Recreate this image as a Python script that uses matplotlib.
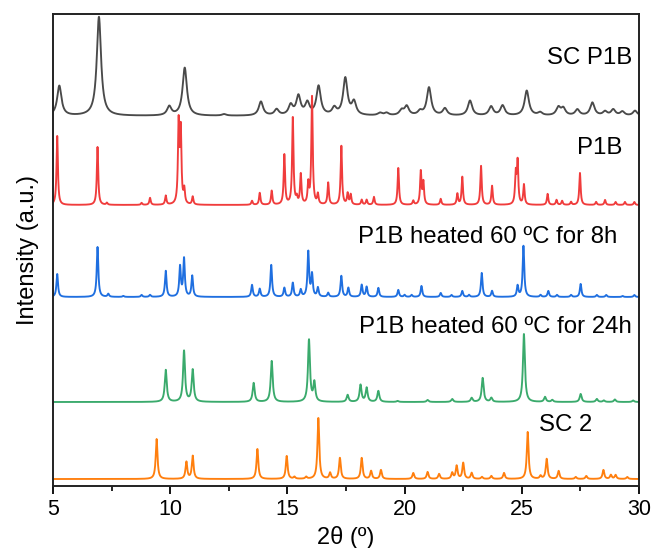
import numpy as np
import matplotlib
matplotlib.use('Agg')
import matplotlib.pyplot as plt
from matplotlib.ticker import MultipleLocator

plt.rcParams['font.family'] = ['Liberation Sans', 'DejaVu Sans']

# peak lists: 2theta (deg) and height (a.u.)
sc_p1b_pos = [5.27, 6.96, 9.96, 10.62, 12.3, 13.87, 14.54, 15.14, 15.47, 15.85, 16.33, 17.0,
              17.47, 17.84, 18.95, 19.23, 19.87, 20.09, 20.66, 21.04, 21.72, 22.79, 23.69,
              24.18, 25.21, 25.78, 26.56, 26.77, 27.37, 28.01, 28.55, 28.9, 29.29, 29.83]
sc_p1b_int = [30, 99, 9, 48, 1.5, 14, 6, 10, 19, 12, 29, 7,
              37, 13, 2.5, 2.5, 5, 9, 4, 28, 7, 15, 9,
              10, 25, 3, 8, 7, 6, 13, 4, 6, 4, 5]

p1b_pos = [5.18, 6.9, 7.3, 8.78, 9.14, 9.81, 10.36, 10.45, 10.6, 10.96, 13.49, 13.82, 14.33,
           14.87, 15.23, 15.4, 15.57, 15.89, 16.05, 16.3, 16.74, 17.3, 17.57, 17.7, 18.17,
           18.38, 18.69, 19.73, 20.37, 20.69, 20.8, 21.54, 22.25, 22.46, 23.26, 23.73, 24.74,
           24.82, 25.09, 26.1, 26.48, 26.72, 27.1, 27.48, 28.17, 28.55, 29.0, 29.4, 29.8]
p1b_int = [69, 58, 2, 2, 7, 9, 80, 72, 14, 8, 4, 12, 14,
           50, 87, 6, 30, 20, 108, 10, 22, 59, 11, 10, 5,
           5, 8, 37, 4, 33, 22, 6, 11, 28, 39, 19, 30,
           42, 20, 11, 5, 4, 3, 32, 3, 5, 3, 3, 3]

heat8_pos = [5.18, 6.9, 7.36, 8.0, 8.78, 9.14, 9.81, 10.42, 10.59, 10.94, 13.49, 13.82, 14.31,
             14.87, 15.23, 15.57, 15.89, 16.05, 16.3, 16.74, 17.3, 17.6, 18.17, 18.38, 18.88,
             19.73, 20.0, 20.3, 20.72, 21.54, 22.0, 22.46, 22.75, 23.29, 23.73, 24.82, 25.07,
             25.8, 26.13, 26.5, 27.1, 27.51, 28.2, 28.6, 29.3, 29.8]
heat8_int = [23, 50, 3, 1, 2, 2, 26, 30, 38, 21, 12, 8, 32,
             9, 14, 7, 45, 22, 9, 4, 21, 9, 12, 10, 9,
             7, 2, 2, 11, 4, 2, 6, 2, 24, 6, 11, 51,
             2, 6, 2, 2, 13, 2, 2, 1, 2]

heat24_pos = [9.81, 10.59, 10.96, 13.56, 14.33, 15.92, 16.15, 17.57, 18.12, 18.38, 18.88,
              19.7, 20.98, 22.03, 22.86, 23.33, 23.7, 25.09, 25.99, 26.3, 27.51, 28.2,
              28.5, 28.97, 29.75]
heat24_int = [32, 51, 32, 19, 41, 62, 19, 7, 17, 14, 11,
              1, 2, 3, 4, 24, 4, 68, 5, 2, 8, 3,
              1.5, 2.5, 1.5]

sc2_pos = [9.42, 10.69, 10.96, 13.72, 14.97, 15.3, 15.8, 16.32, 16.82, 17.24, 18.17, 18.57,
           18.99, 20.37, 20.98, 21.47, 22.03, 22.22, 22.5, 22.86, 23.3, 23.7, 24.24, 25.25,
           25.8, 26.06, 26.57, 27.3, 27.75, 28.48, 28.8, 29.0, 29.5]
sc2_int = [40, 17, 23, 30, 23, 2, 2, 61, 6, 21, 21, 8,
           9, 6, 7, 5, 6, 13, 16, 6, 2, 3, 6, 47,
           3, 20, 8, 2, 3, 9, 4, 4, 2]

labels = ['SC P1B', 'P1B', 'P1B heated 60 ºC for 8h', 'P1B heated 60 ºC for 24h', 'SC 2']
colors = ['#4a4a4a', '#f03c3c', '#1f6fe0', '#3aaa6c', '#ff7f0e']
offsets = [370, 281, 189, 84, 7]
widths = [0.22, 0.07, 0.08, 0.1, 0.09]
label_x = [29.7, 29.3, 29.06, 29.7, 28.0]
label_y = [428, 338, 249, 159, 61]

x = np.linspace(5, 30, 5000)


def pattern(pos, inten, w):
    y = np.zeros_like(x)
    for p, h in zip(pos, inten):
        y += h * (w / 2) ** 2 / ((x - p) ** 2 + (w / 2) ** 2)
    return y


patterns = [(sc_p1b_pos, sc_p1b_int), (p1b_pos, p1b_int), (heat8_pos, heat8_int),
            (heat24_pos, heat24_int), (sc2_pos, sc2_int)]

fig = plt.figure(figsize=(6.51, 5.48), dpi=100)
ax = fig.add_axes([0.0814, 0.1131, 0.9002, 0.8614])

for (pos, inten), c, off, w, lab, lx, ly in zip(patterns, colors, offsets, widths, labels,
                                                label_x, label_y):
    ax.plot(x, pattern(pos, inten, w) + off, color=c, lw=1.35)
    ax.text(lx, ly, lab, ha='right', va='center', fontsize=17.3)

ax.set_xlim(5, 30)
ax.set_ylim(0, 472)
ax.xaxis.set_major_locator(MultipleLocator(5))
ax.xaxis.set_minor_locator(MultipleLocator(2.5))
ax.tick_params(axis='x', which='major', direction='out', length=6, width=1.3, labelsize=15.5)
ax.tick_params(axis='x', which='minor', direction='out', length=3.5, width=1.2)
ax.set_yticks([])
for s in ax.spines.values():
    s.set_linewidth(1.4)
    s.set_color('#222222')

ax.set_xlabel('2θ (º)', fontsize=17, labelpad=4)
ax.set_ylabel('Intensity (a.u.)', fontsize=17, labelpad=10)

fig.savefig('out.png', dpi=100)
